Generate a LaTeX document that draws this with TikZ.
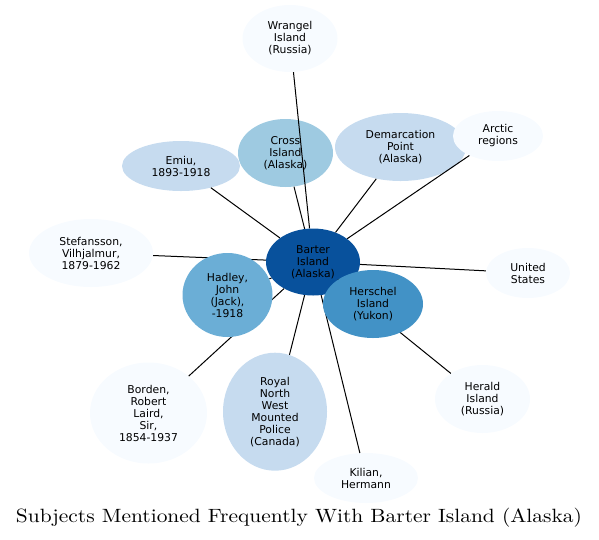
\documentclass[tikz,border=0pt]{standalone}
\usepackage{fontspec}
\usepackage{graphicx}
\usetikzlibrary{shapes.geometric}
\newfontfamily\nodefont{DejaVu Sans}
\definecolor{b0}{HTML}{F7FBFF}
\definecolor{b2}{HTML}{C6DBEF}
\definecolor{b3}{HTML}{9ECAE1}
\definecolor{b4}{HTML}{6BAED6}
\definecolor{b5}{HTML}{4292C6}
\definecolor{b7}{HTML}{08519C}
\pgfdeclarelayer{front}
\pgfsetlayers{main,front}
\tikzset{
  subj/.style={ellipse, draw=none, inner sep=0pt, align=center,
    font=\nodefont\fontsize{10.8}{12}\selectfont, text=black},
  link/.style={draw=black, line width=1pt}
}
\begin{document}
\begin{tikzpicture}[x=1pt,y=-1pt]
\useasboundingbox (0,0) rectangle (599,539);
\node[subj, fill=b0, minimum width=95pt, minimum height=67pt] (wrangel) at (290,38.5) {Wrangel\\Island\\(Russia)};
\node[subj, fill=b3, minimum width=95pt, minimum height=68pt] (cross) at (285.5,153) {Cross\\Island\\(Alaska)};
\node[subj, fill=b2, minimum width=131pt, minimum height=68pt] (demarc) at (400.5,147) {Demarcation\\Point\\(Alaska)};
\node[subj, fill=b0, minimum width=90pt, minimum height=50pt] (arctic) at (498,136) {Arctic\\regions};
\node[subj, fill=b2, minimum width=118pt, minimum height=50pt] (emiu) at (181,166) {Emiu,\\1893-1918};
\node[subj, fill=b0, minimum width=124pt, minimum height=68pt] (stef) at (91,253) {Stefansson,\\Vilhjalmur,\\1879-1962};
\node[subj, fill=b0, minimum width=84pt, minimum height=50pt] (us) at (528,273) {United\\States};
\node[subj, fill=b0, minimum width=95pt, minimum height=68pt] (herald) at (482.5,399) {Herald\\Island\\(Russia)};
\node[subj, fill=b0, minimum width=117pt, minimum height=101pt] (borden) at (148.5,413) {Borden,\\Robert\\Laird,\\Sir,\\1854-1937};
\node[subj, fill=b2, minimum width=104pt, minimum height=118pt] (royal) at (275,411.7) {Royal\\North\\West\\Mounted\\Police\\(Canada)};
\node[subj, fill=b0, minimum width=104pt, minimum height=50pt] (kilian) at (366,478) {Kilian,\\Hermann};
\node[subj, fill=b7, minimum width=94pt, minimum height=67pt] (barter) at (313,262) {Barter\\Island\\(Alaska)};
\begin{pgfonlayer}{front}
\node[subj, fill=b4, minimum width=90pt, minimum height=84pt] (hadley) at (227.5,295) {Hadley,\\John\\(Jack),\\-1918};
\node[subj, fill=b5, minimum width=100pt, minimum height=68pt] (herschel) at (373,304) {Herschel\\Island\\(Yukon)};
\end{pgfonlayer}
\foreach \t in {wrangel,cross,demarc,arctic,emiu,stef,us,herald,borden,royal,kilian,hadley,herschel}
  \draw[link] (barter) -- (\t);
\node[anchor=base, inner sep=0pt] (title) at (299,522.7) {\resizebox{566pt}{14.4pt}{Subjects Mentioned Frequently With Barter Island (Alaska)}};
\end{tikzpicture}
\end{document}
